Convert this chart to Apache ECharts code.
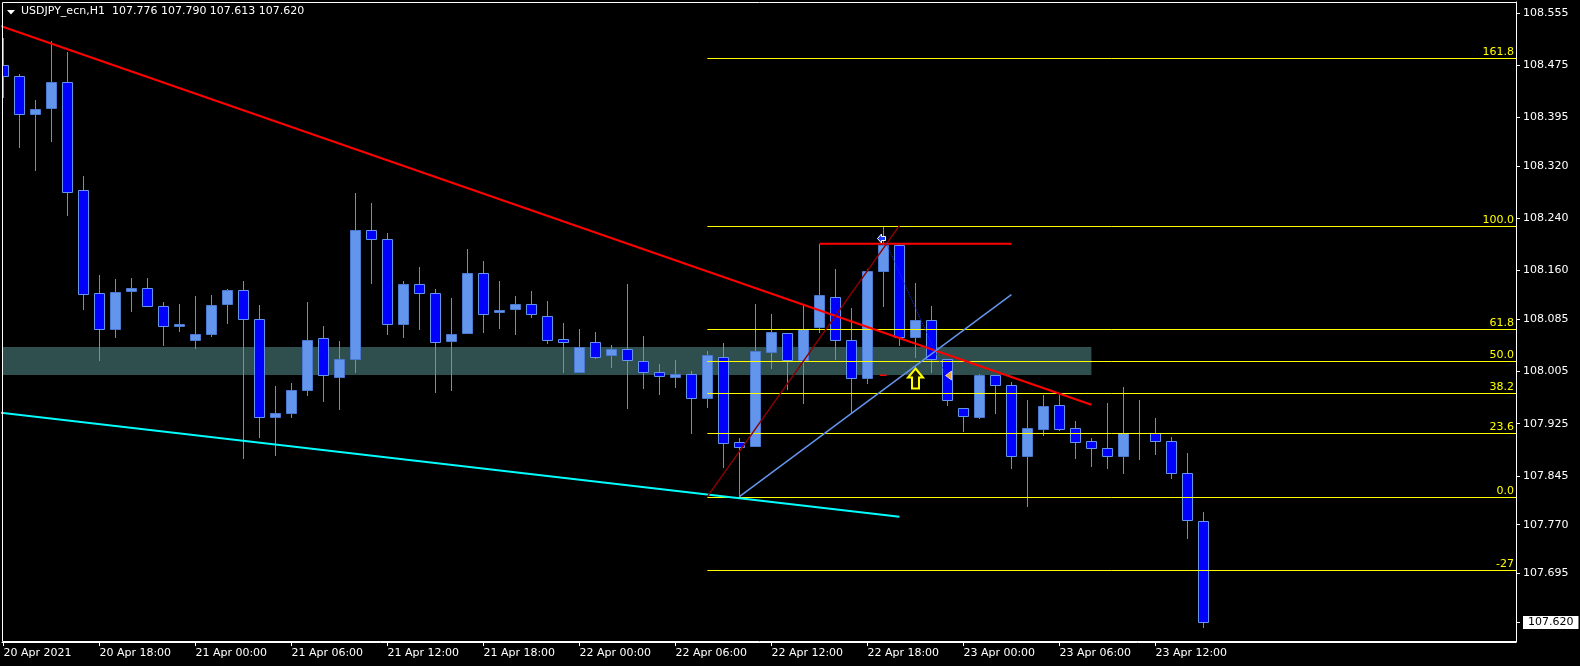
<!DOCTYPE html>
<html><head><meta charset="utf-8">
<script src="https://cdn.jsdelivr.net/npm/echarts@6/dist/echarts.min.js"></script>
<style>html,body{margin:0;padding:0;background:#000;}#c{width:1580px;height:666px;}</style>
</head><body><div id="c"></div>
<script>
const symbolTitle = 'USDJPY_ecn,H1';
const openP = [108.475,108.458,108.400,108.409,108.450,108.283,108.125,108.071,108.128,108.134,
108.105,108.075,108.054,108.062,108.108,108.130,108.085,107.936,107.942,107.977,
108.056,107.996,108.024,108.223,108.208,108.078,108.140,108.125,108.052,108.064,
108.157,108.096,108.101,108.109,108.091,108.055,108.005,108.051,108.030,108.039,
108.021,108.005,107.996,108.002,107.965,108.028,107.897,107.890,108.035,108.064,
108.023,108.073,108.120,108.053,107.995,108.160,108.200,108.058,108.084,108.025,
107.949,107.936,108.000,107.984,107.876,107.917,107.953,107.918,107.898,107.887,
107.876,107.910,107.910,107.899,107.850,107.776];
const highP = [108.517,108.462,108.422,108.512,108.495,108.305,108.153,108.147,108.149,108.149,
108.112,108.109,108.121,108.122,108.132,108.144,108.107,107.983,107.988,108.112,
108.075,108.052,108.279,108.264,108.217,108.144,108.165,108.132,108.118,108.193,
108.175,108.144,108.121,108.129,108.113,108.080,108.070,108.066,108.046,108.139,
108.060,108.017,108.023,108.006,108.037,108.049,107.903,108.109,108.093,108.064,
108.109,108.201,108.163,108.102,108.163,108.229,108.203,108.141,108.106,108.025,
107.949,108.001,108.000,107.989,107.961,107.969,107.969,107.929,107.903,107.957,
107.981,107.961,107.934,107.904,107.880,107.790];
const lowP = [108.426,108.350,108.314,108.359,108.245,108.101,108.022,108.058,108.098,108.105,
108.046,108.068,108.041,108.060,108.080,107.873,107.905,107.877,107.936,107.969,
107.960,107.948,108.005,108.141,108.062,108.058,108.070,107.973,107.976,108.064,
108.065,108.072,108.062,108.088,108.049,108.004,108.005,108.026,108.012,107.949,
107.980,107.971,107.982,107.911,107.951,107.859,107.813,107.890,108.011,107.978,
107.956,108.065,108.024,107.942,107.988,108.106,108.045,108.028,108.004,107.953,
107.914,107.934,107.942,107.857,107.799,107.908,107.915,107.873,107.860,107.857,
107.850,107.871,107.879,107.842,107.750,107.613];
const closeP = [108.458,108.400,108.408,108.449,108.281,108.124,108.071,108.127,108.133,108.105,
108.075,108.078,108.062,108.107,108.130,108.085,107.935,107.942,107.976,108.054,
107.999,108.024,108.222,108.208,108.078,108.140,108.125,108.051,108.062,108.157,
108.094,108.099,108.108,108.093,108.054,108.051,108.042,108.028,108.039,108.022,
108.005,107.998,108.002,107.965,108.030,107.896,107.889,108.036,108.065,108.022,
108.071,108.122,108.053,107.995,108.160,108.200,108.058,108.084,108.025,107.962,
107.937,108.000,107.985,107.876,107.918,107.952,107.917,107.897,107.887,107.876,
107.910,107.911,107.899,107.849,107.777,107.620];

const xTickBars = [0,6,12,18,24,30,36,42,48,54,60,66,72];
const xTickLabels = ['20 Apr 2021','20 Apr 18:00','21 Apr 00:00','21 Apr 06:00','21 Apr 12:00','21 Apr 18:00','22 Apr 00:00','22 Apr 06:00','22 Apr 12:00','22 Apr 18:00','23 Apr 00:00','23 Apr 06:00','23 Apr 12:00'];
const yTickValues = [108.555,108.475,108.395,108.320,108.240,108.160,108.085,108.005,107.925,107.845,107.770,107.695];
const lastPrice = 107.620;

const zone = [-1, 68, 108.0426, 108.0001];
const redTrend = [[-1,108.5425],[68,107.954]];
const cyanTrend = [[-1,107.944],[56,107.782]];
const fibAnchor = [[44,107.813],[56,108.229]];
const fibLevels = [161.8,100,61.8,50,38.2,23.6,0,-27];
const fibLabels = ['161.8','100.0','61.8','50.0','38.2','23.6','0.0','-27'];
const blueTrend = [[46,107.813],[63,108.123]];
const redLevel = [[51,108.201],[63,108.201]];
const tradeLine = [[55.16,108.2023],[58.85,108.0027]];
const stopDash = [[54.77,107.9992],[55.2,107.9992]];
const upArrow = [57, 108.0104];
const closeMark = [58.88, 108.0];
const openMark = [54.6, 108.2107];

const FONT = '11px "DejaVu Sans"';
const candleData = openP.map((o,i)=>[i,o,highP[i],lowP[i],closeP[i]]);

function renderCandle(params, api){
  const k=api.value(0), o=api.value(1), h=api.value(2), l=api.value(3), c=api.value(4);
  const pO=api.coord([k,o]), pC=api.coord([k,c]), pH=api.coord([k,h]), pL=api.coord([k,l]);
  const x=Math.floor(pO[0])+0.5;
  const yT=Math.round(Math.min(pO[1],pC[1]))+0.5, yB=Math.round(Math.max(pO[1],pC[1]))+0.5;
  const bull = c>=o;
  return {type:'group', children:[
    {type:'line', shape:{x1:x,y1:Math.round(pH[1]),x2:x,y2:Math.round(pL[1])+1}, style:{stroke:'#5f8fe6',lineWidth:1}},
    {type:'rect', shape:{x:x-5,y:yT,width:10,height:Math.max(yB-yT,0)},
     style:{fill: bull?'#6495ED':'#0000FF', stroke: bull?'#4a7ad0':'#6495ED', lineWidth:1}}
  ]};
}

function renderZone(params, api){
  const a=api.coord([api.value(0),api.value(2)]), b=api.coord([api.value(1),api.value(3)]);
  return {type:'rect', shape:{x:a[0],y:Math.round(a[1]),width:b[0]-a[0],height:Math.round(b[1])-Math.round(a[1])}, style:{fill:'#2F4F4F'}};
}

const fibLow = fibAnchor[0][1], fibHigh = fibAnchor[1][1];
function renderFib(params, api){
  const lv = api.value(0);
  const price = fibLow + lv/100*(fibHigh-fibLow);
  const p0 = api.coord([fibAnchor[0][0], price]);
  const xr = params.coordSys.x + params.coordSys.width;
  const y = Math.round(p0[1])+0.5;
  return {type:'group', children:[
    {type:'line', shape:{x1:p0[0],y1:y,x2:xr,y2:y}, style:{stroke:'#ffff00',lineWidth:1}},
    {type:'text', style:{text:fibLabels[params.dataIndex], x:xr-2, y:y-0.5, align:'right', verticalAlign:'bottom', fill:'#ffff00', font:FONT}}
  ]};
}

function renderMarker(params, api){
  const p = api.coord([api.value(0), api.value(1)]);
  const kind = api.value(2);
  const tx = Math.round(p[0]), ty = Math.round(p[1]);
  let pts, style;
  if (kind===0){
    pts=[[0,0],[7.5,9],[3.5,9],[3.5,20],[-3.5,20],[-3.5,9],[-7.5,9]];
    style={fill:'#141400', stroke:'#ffff00', lineWidth:2};
  } else if (kind===1){
    pts=[[0,0],[6,-4.5],[6,4.5]];
    style={fill:'#E8A33C', stroke:'#ffffff', lineWidth:0.7};
  } else {
    pts=[[0,0],[4,-4.5],[4,-2],[8,-2],[8,2],[4,2],[4,4.5]];
    style={fill:'#1e3cff', stroke:'#ffffff', lineWidth:1};
  }
  return {type:'polygon', shape:{points:pts.map(q=>[tx+q[0]+0.5, ty+q[1]+0.5])}, style};
}

function lineSeries(data, color, width, type, z){
  return {type:'line', data, symbol:'none', showSymbol:false, silent:true, clip:true, z:z||3,
    lineStyle:{color, width, type:type||'solid'}};
}

const chart = echarts.init(document.getElementById('c'), null, {renderer:'canvas'});
chart.setOption({
  backgroundColor:'#000000',
  animation:false,
  grid:{left:2, top:2, width:1514, height:640, show:false, outerBoundsMode:'none', containLabel:false},
  xAxis:{type:'value', min:-0.0875, max:94.5375, position:'bottom',
    axisLine:{show:true, onZero:false, lineStyle:{color:'#ffffff', width:1}},
    axisTick:{show:true, customValues:xTickBars, length:4, inside:false, lineStyle:{color:'#ffffff'}},
    axisLabel:{show:true, customValues:xTickBars, formatter:v=>xTickLabels[xTickBars.indexOf(Math.round(v))],
      align:'left', color:'#ffffff', fontFamily:'DejaVu Sans', fontSize:11, margin:6},
    splitLine:{show:false}},
  yAxis:{type:'value', position:'right', min:107.5899, max:108.5722, scale:true,
    axisLine:{show:true, onZero:false, lineStyle:{color:'#ffffff', width:1}},
    axisTick:{show:true, customValues:yTickValues.concat([lastPrice]), length:4, inside:false, lineStyle:{color:'#ffffff'}},
    axisLabel:{show:true, customValues:yTickValues.concat([lastPrice]),
      formatter:v=> Math.abs(v-lastPrice)<1e-6 ? '{cur|'+v.toFixed(3)+'}' : v.toFixed(3),
      color:'#ffffff', fontFamily:'DejaVu Sans', fontSize:11, margin:7,
      rich:{cur:{backgroundColor:'#ffffff', color:'#000000', padding:[1,5,1,5], fontFamily:'DejaVu Sans', fontSize:11}}},
    splitLine:{show:false}},
  graphic:[
    {type:'rect', shape:{x:2.5,y:2.5,width:1514,height:639}, style:{fill:null, stroke:'#ffffff', lineWidth:1}, silent:true, z:10},
    {type:'polygon', shape:{points:[[7,10],[15,10],[11,14.5]]}, style:{fill:'#ffffff'}, z:10},
    {type:'text', x:21, y:6, style:{text:symbolTitle+'  '+[openP[75],highP[75],lowP[75],closeP[75]].map(v=>v.toFixed(3)).join(' '), fill:'#ffffff', font:FONT}, z:10}
  ],
  series:[
    {type:'custom', renderItem:renderZone, data:[zone], clip:true, silent:true, z:1, encode:{x:[0,1], y:[2,3]}},
    {type:'custom', renderItem:renderCandle, data:candleData, clip:true, silent:true, z:2, encode:{x:0, y:[1,2,3,4]}},
    {type:'custom', renderItem:renderFib, data:fibLevels.map(v=>[v]), silent:true, z:3, encode:{x:0}},
    lineSeries(redTrend,'#ff0000',2),
    lineSeries(cyanTrend,'#00ffff',2),
    lineSeries(fibAnchor,'#8b0000',1.5),
    lineSeries(blueTrend,'#6495ED',1.5),
    lineSeries(redLevel,'#ff0000',2),
    lineSeries(tradeLine,'#1a2cf0',1,'dotted',4),
    lineSeries(stopDash,'#ff0000',1.5,'solid',4),
    {type:'custom', renderItem:renderMarker, data:[[upArrow[0],upArrow[1],0],[closeMark[0],closeMark[1],1],[openMark[0],openMark[1],2]], silent:true, z:5, encode:{x:0,y:1}}
  ]
});
</script></body></html>
